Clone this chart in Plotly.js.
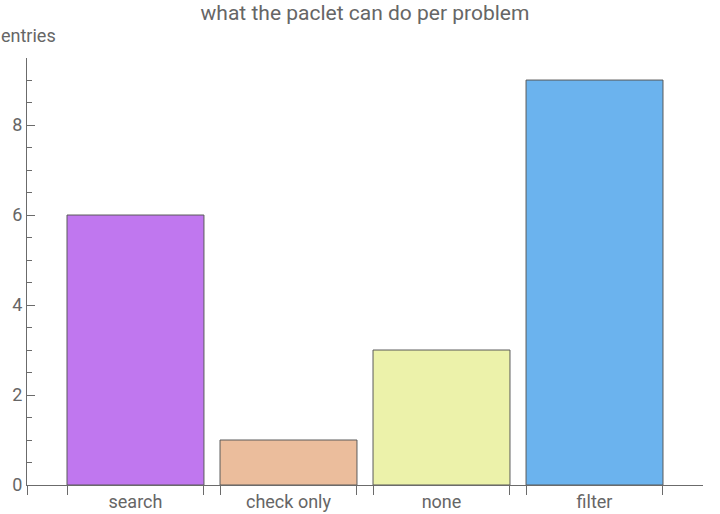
<!DOCTYPE html>
<html>
<head>
<meta charset="utf-8">
<script src="https://cdn.plot.ly/plotly-3.0.1.min.js"></script>
<style>html,body{margin:0;padding:0;background:#fff;}#chart{width:720px;height:514px;}</style>
</head>
<body>
<div id="chart"></div>
<script>
const categories = ["search", "check only", "none", "filter"];
const values = [6, 1, 3, 9];
const colors = ["#c077ef", "#ebbd9c", "#ecf2aa", "#6bb3ee"];
const yTickVals = [0, 2, 4, 6, 8];

const barWidth = 0.895;
const positions = categories.map((c, i) => i);
const edges = [];
positions.forEach(p => { edges.push(p - barWidth / 2, p + barWidth / 2); });
const xRange = [-0.709, categories.length - 1 + 0.709];
edges.unshift(xRange[0]);

const axisColor = "#6b6b6b";
const textColor = "#666666";
const fam = "Roboto, 'Open Sans', sans-serif";

const trace = {
  type: "bar",
  x: positions,
  y: values,
  width: barWidth,
  marker: {color: colors, line: {color: "#5a5a5a", width: 1}},
  hoverinfo: "skip"
};
const labelTrace = {
  type: "scatter", mode: "markers", x: positions, y: values.map(() => 0),
  xaxis: "x2", marker: {opacity: 0}, hoverinfo: "skip", showlegend: false
};

const layout = {
  width: 720, height: 514,
  margin: {l: 27, r: 17, t: 58, b: 29},
  paper_bgcolor: "#fff", plot_bgcolor: "#fff",
  showlegend: false,
  font: {family: fam, size: 18, color: textColor},
  title: {text: "what the paclet can do per problem", font: {family: fam, size: 21, color: textColor},
          xref: "paper", x: 0.5, xanchor: "center", yref: "container", y: 1 - 13 / 514, yanchor: "middle"},
  xaxis: {
    range: xRange, showgrid: false, zeroline: false,
    showline: true, linecolor: axisColor, linewidth: 1,
    tickmode: "array", tickvals: edges, ticktext: edges.map(() => ""),
    ticks: "outside", ticklen: 9, tickcolor: axisColor, tickwidth: 1
  },
  xaxis2: {
    overlaying: "x", range: xRange, showgrid: false, zeroline: false, showline: false,
    tickmode: "array", tickvals: positions, ticktext: categories, ticks: "",
    anchor: "y", side: "bottom", ticklabelstandoff: 4,
    tickfont: {family: fam, size: 18, color: textColor}
  },
  yaxis: {
    range: [0, 9.49], showgrid: false, zeroline: false,
    showline: true, linecolor: axisColor, linewidth: 1,
    tickmode: "array", tickvals: yTickVals, ticks: "inside", ticklen: 8,
    tickcolor: axisColor, tickwidth: 1,
    minor: {dtick: 0.5, tick0: 0, ticks: "inside", ticklen: 5, tickcolor: axisColor, tickwidth: 1},
    tickfont: {family: fam, size: 18, color: textColor}
  },
  annotations: [{
    text: "entries", xref: "paper", yref: "paper", x: 0, y: 1, xshift: -28, yshift: 23,
    xanchor: "left", yanchor: "middle", showarrow: false,
    font: {family: fam, size: 18, color: textColor}
  }]
};

Plotly.newPlot("chart", [trace, labelTrace], layout, {displayModeBar: false, staticPlot: true});
</script>
</body>
</html>
